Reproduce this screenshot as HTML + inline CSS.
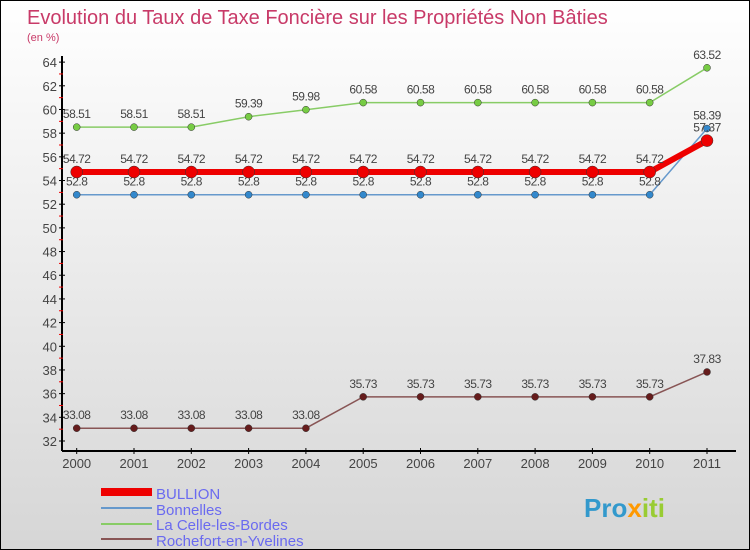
<!DOCTYPE html>
<html><head><meta charset="utf-8"><style>
body{margin:0}
#c{width:750px;height:550px;position:relative;box-sizing:border-box;border:1px solid #000;background:linear-gradient(#ffffff,#d6d6d6);font-family:"Liberation Sans",sans-serif;overflow:hidden}
</style></head><body>
<div id="c">
<svg id="s" width="748" height="548" style="position:absolute;left:0;top:0">
<text x="26" y="23" font-size="20" fill="#c83a68">Evolution du Taux de Taxe Foncière sur les Propriétés Non Bâties</text>
<text x="26" y="40" font-size="11" fill="#c83a68">(en %)</text>
<g id="g"></g>
<g>
<rect x="100" y="487" width="51" height="8" fill="#ee0000"/>
<text x="155" y="498" font-size="15" fill="#6a6af0">BULLION</text>
<rect x="100" y="506" width="51" height="2" fill="#6699cc"/>
<text x="155" y="514" font-size="15" fill="#6a6af0">Bonnelles</text>
<rect x="100" y="522" width="51" height="2" fill="#88cc66"/>
<text x="155" y="529" font-size="15" fill="#6a6af0">La Celle-les-Bordes</text>
<rect x="100" y="537" width="51" height="2" fill="#885555"/>
<text x="155" y="545" font-size="15" fill="#6a6af0">Rochefort-en-Yvelines</text>
</g>
<g><text x="583" y="516" font-size="26" font-weight="bold" fill="#3399cc">Pro<tspan fill="#ff9900">x</tspan><tspan fill="#99cc33">iti</tspan></text></g>
</svg>
</div>
<script>
const years=["2000","2001","2002","2003","2004","2005","2006","2007","2008","2009","2010","2011"];
const bullion=[54.72,54.72,54.72,54.72,54.72,54.72,54.72,54.72,54.72,54.72,54.72,57.37];
const bonnelles=[52.8,52.8,52.8,52.8,52.8,52.8,52.8,52.8,52.8,52.8,52.8,58.39];
const laCelle=[58.51,58.51,58.51,59.39,59.98,60.58,60.58,60.58,60.58,60.58,60.58,63.52];
const rochefort=[33.08,33.08,33.08,33.08,33.08,35.73,35.73,35.73,35.73,35.73,35.73,37.83];
const yTicks=[32,34,36,38,40,42,44,46,48,50,52,54,56,58,60,62,64];
const NS="http://www.w3.org/2000/svg";
const g=document.getElementById('g');
const X=i=>75.7+i*57.3;
const Y=v=>440-(v-32)*11.84;
function el(t,a){const e=document.createElementNS(NS,t);for(const k in a)e.setAttribute(k,a[k]);g.appendChild(e);return e;}
let e;
e=el('line',{x1:61,y1:55,x2:61,y2:450,stroke:'#000','stroke-width':2});


e=el('line',{x1:61,y1:450,x2:735,y2:450,stroke:'#000','stroke-width':2});


yTicks.forEach((v,i)=>{
 e=el('line',{x1:58,y1:Y(v),x2:64,y2:Y(v),stroke:'#000'});
 
 
 if(i<yTicks.length-1){e=el('line',{x1:58,y1:Y(v+1),x2:62,y2:Y(v+1),stroke:'#e00'});
 
 }
 e=el('text',{x:56,y:Y(v)+5,'font-size':13,fill:'#444','text-anchor':'end'});e.textContent=v;
 
 
});
years.forEach((y,i)=>{
 e=el('line',{x1:X(i),y1:447,x2:X(i),y2:453,stroke:'#000'});
 
 
 e=el('text',{x:X(i),y:467,'font-size':13,fill:'#444','text-anchor':'middle'});e.textContent=y;
 
 
});
function series(d,col,w,r,dot,name){
 e=el('polyline',{points:d.map((v,i)=>X(i)+','+Y(v)).join(' '),fill:'none',stroke:col,'stroke-width':w});
 
 
 d.forEach((v,i)=>{
  e=el('circle',{cx:X(i),cy:Y(v),r:r,fill:dot,stroke:'#333','stroke-width':0.5});
  
  
  e=el('text',{x:X(i),y:Y(v)-9,'font-size':12,fill:'#444','text-anchor':'middle','letter-spacing':'-0.5'});e.textContent=v;
  
  
 });
}
series(laCelle,'#88cc66',1.5,3.5,'#77cc44','la-celle');
series(bonnelles,'#6699cc',1.5,3.5,'#3388cc','bonnelles');
series(rochefort,'#885555',1.5,3.5,'#661c1c','rochefort');
series(bullion,'#ee0000',6,6,'#ee0000','bullion');
</script>
</body></html>
